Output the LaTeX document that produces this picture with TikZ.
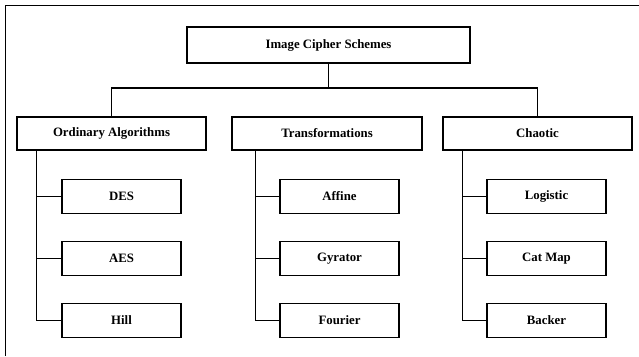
\documentclass[tikz,border=0pt]{standalone}
\usepackage{fontspec}
\setmainfont{Liberation Serif}
\usetikzlibrary{positioning}

\tikzset{
  box/.style={draw, line width=1.1pt, inner sep=0pt, font=\fontsize{12.8}{15}\selectfont\bfseries},
  rootbox/.style={box, minimum width=283pt, minimum height=36pt},
  groupbox/.style={box, minimum width=189pt, minimum height=33pt},
  leafbox/.style={box, minimum width=119pt, minimum height=34pt},
  link/.style={line width=1.1pt}
}

\begin{document}
\begin{tikzpicture}[x=1pt, y=1pt]
\useasboundingbox (0,0) rectangle (639,356);
% outer frame
\draw[line width=1pt] (5,0) -- (5,350) -- (639,350);

\node[rootbox] (root) at (328.5,311) {Image Cipher Schemes};

\node[groupbox] (ord) at (111.5,222.5) {Ordinary Algorithms};
\node[groupbox, minimum width=190pt] (trans) at (327,222.5) {Transformations};
\node[groupbox] (chao) at (537.5,222.5) {Chaotic};

% leaves
\node[leafbox, anchor=north west] (des) at ([xshift=45pt, yshift=-28pt]ord.south west) {DES};
\node[leafbox, below=27pt of des] (aes) {AES};
\node[leafbox, below=27pt of aes] (hill) {Hill};

\node[leafbox, anchor=north west] (aff) at ([xshift=48pt, yshift=-28pt]trans.south west) {Affine};
\node[leafbox, below=27pt of aff] (gyr) {Gyrator};
\node[leafbox, below=27pt of gyr] (four) {Fourier};

\node[leafbox, anchor=north west] (logi) at ([xshift=44pt, yshift=-28pt]chao.south west) {Logistic};
\node[leafbox, below=27pt of logi] (cat) {Cat Map};
\node[leafbox, below=27pt of cat] (back) {Backer};

% tree links
\coordinate (bus) at (0,268);
\draw[link] (root.south) -- (root.south |- bus);
\draw[link] (ord.north) |- (chao.north |- bus) -- (chao.north);

\coordinate (sp1) at ([xshift=20pt]ord.south west);
\coordinate (sp2) at ([xshift=24pt]trans.south west);
\coordinate (sp3) at ([xshift=20pt]chao.south west);
\draw[link] (sp1) |- (hill.west);
\draw[link] (des.west) -- (des.west -| sp1);
\draw[link] (aes.west) -- (aes.west -| sp1);
\draw[link] (sp2) |- (four.west);
\draw[link] (aff.west) -- (aff.west -| sp2);
\draw[link] (gyr.west) -- (gyr.west -| sp2);
\draw[link] (sp3) |- (back.west);
\draw[link] (logi.west) -- (logi.west -| sp3);
\draw[link] (cat.west) -- (cat.west -| sp3);
\end{tikzpicture}
\end{document}
